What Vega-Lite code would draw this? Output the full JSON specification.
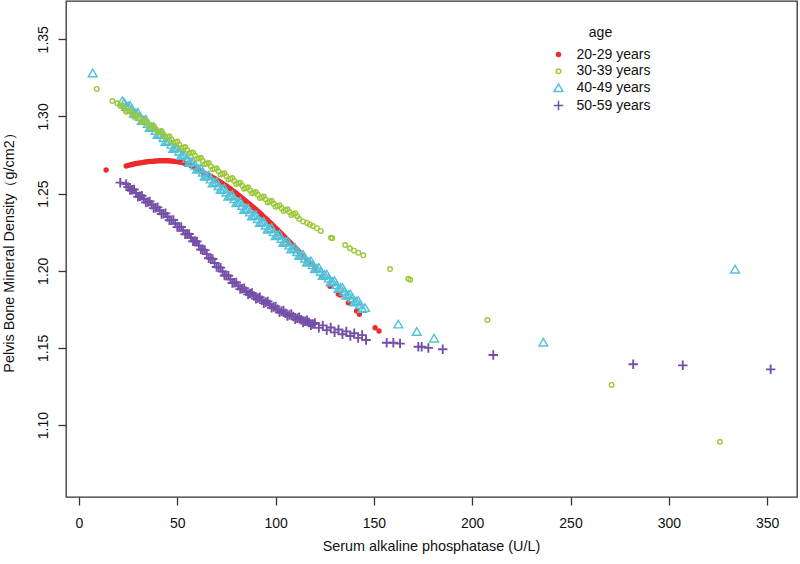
{
"$schema":"https://vega.github.io/schema/vega-lite/v6.json",
"autosize":"none",
"width":731,"height":496,
"padding":{"left":66,"top":1,"right":3,"bottom":67},
"background":"white",
"data":{"values":[
{"age":"20-29 years","alp":13.8,"bmd":1.2653},{"age":"20-29 years","alp":24,"bmd":1.2679},{"age":"20-29 years","alp":25,"bmd":1.2683},{"age":"20-29 years","alp":26,"bmd":1.2686},{"age":"20-29 years","alp":27,"bmd":1.2689},{"age":"20-29 years","alp":28,"bmd":1.2692},{"age":"20-29 years","alp":29,"bmd":1.2695},{"age":"20-29 years","alp":30,"bmd":1.2697},{"age":"20-29 years","alp":31,"bmd":1.2699},{"age":"20-29 years","alp":32,"bmd":1.2701},{"age":"20-29 years","alp":33,"bmd":1.2703},{"age":"20-29 years","alp":34,"bmd":1.2705},{"age":"20-29 years","alp":35,"bmd":1.2707},{"age":"20-29 years","alp":36,"bmd":1.2708},{"age":"20-29 years","alp":37,"bmd":1.2709},{"age":"20-29 years","alp":38,"bmd":1.2710},{"age":"20-29 years","alp":39,"bmd":1.2711},{"age":"20-29 years","alp":40,"bmd":1.2712},{"age":"20-29 years","alp":41,"bmd":1.2713},{"age":"20-29 years","alp":42,"bmd":1.2713},{"age":"20-29 years","alp":43,"bmd":1.2713},{"age":"20-29 years","alp":44,"bmd":1.2713},{"age":"20-29 years","alp":45,"bmd":1.2713},{"age":"20-29 years","alp":46,"bmd":1.2712},{"age":"20-29 years","alp":47,"bmd":1.2711},{"age":"20-29 years","alp":48,"bmd":1.2710},{"age":"20-29 years","alp":49,"bmd":1.2709},{"age":"20-29 years","alp":50,"bmd":1.2707},{"age":"20-29 years","alp":51,"bmd":1.2705},{"age":"20-29 years","alp":52,"bmd":1.2703},{"age":"20-29 years","alp":53,"bmd":1.2700},{"age":"20-29 years","alp":54,"bmd":1.2697},{"age":"20-29 years","alp":55,"bmd":1.2693},{"age":"20-29 years","alp":56,"bmd":1.2688},{"age":"20-29 years","alp":57,"bmd":1.2682},{"age":"20-29 years","alp":58,"bmd":1.2675},{"age":"20-29 years","alp":59,"bmd":1.2668},{"age":"20-29 years","alp":60,"bmd":1.2660},{"age":"20-29 years","alp":61,"bmd":1.2653},{"age":"20-29 years","alp":62,"bmd":1.2645},{"age":"20-29 years","alp":63,"bmd":1.2638},{"age":"20-29 years","alp":64,"bmd":1.2630},{"age":"20-29 years","alp":65,"bmd":1.2624},{"age":"20-29 years","alp":66,"bmd":1.2618},{"age":"20-29 years","alp":67,"bmd":1.2612},{"age":"20-29 years","alp":68,"bmd":1.2605},{"age":"20-29 years","alp":69,"bmd":1.2598},{"age":"20-29 years","alp":70,"bmd":1.2590},{"age":"20-29 years","alp":71,"bmd":1.2582},{"age":"20-29 years","alp":72,"bmd":1.2574},{"age":"20-29 years","alp":73,"bmd":1.2566},{"age":"20-29 years","alp":74,"bmd":1.2558},{"age":"20-29 years","alp":75,"bmd":1.2549},{"age":"20-29 years","alp":76,"bmd":1.2540},{"age":"20-29 years","alp":77,"bmd":1.2531},{"age":"20-29 years","alp":78,"bmd":1.2521},{"age":"20-29 years","alp":79,"bmd":1.2512},{"age":"20-29 years","alp":80,"bmd":1.2502},{"age":"20-29 years","alp":81,"bmd":1.2492},{"age":"20-29 years","alp":82,"bmd":1.2482},{"age":"20-29 years","alp":83,"bmd":1.2472},{"age":"20-29 years","alp":84,"bmd":1.2461},{"age":"20-29 years","alp":85,"bmd":1.2451},{"age":"20-29 years","alp":86,"bmd":1.2440},{"age":"20-29 years","alp":87,"bmd":1.2430},{"age":"20-29 years","alp":88,"bmd":1.2419},{"age":"20-29 years","alp":89,"bmd":1.2408},{"age":"20-29 years","alp":90,"bmd":1.2397},{"age":"20-29 years","alp":91,"bmd":1.2386},{"age":"20-29 years","alp":92,"bmd":1.2374},{"age":"20-29 years","alp":93,"bmd":1.2363},{"age":"20-29 years","alp":94,"bmd":1.2351},{"age":"20-29 years","alp":95,"bmd":1.2339},{"age":"20-29 years","alp":96,"bmd":1.2327},{"age":"20-29 years","alp":97,"bmd":1.2315},{"age":"20-29 years","alp":98,"bmd":1.2303},{"age":"20-29 years","alp":99,"bmd":1.2291},{"age":"20-29 years","alp":100,"bmd":1.2278},{"age":"20-29 years","alp":101,"bmd":1.2266},{"age":"20-29 years","alp":102,"bmd":1.2253},{"age":"20-29 years","alp":103,"bmd":1.2240},{"age":"20-29 years","alp":104,"bmd":1.2227},{"age":"20-29 years","alp":105,"bmd":1.2214},{"age":"20-29 years","alp":106,"bmd":1.2201},{"age":"20-29 years","alp":107,"bmd":1.2188},{"age":"20-29 years","alp":108,"bmd":1.2175},{"age":"20-29 years","alp":109,"bmd":1.2162},{"age":"20-29 years","alp":110,"bmd":1.2149},{"age":"20-29 years","alp":111,"bmd":1.2136},{"age":"20-29 years","alp":112,"bmd":1.2122},{"age":"20-29 years","alp":114,"bmd":1.2096},{"age":"20-29 years","alp":116,"bmd":1.2069},{"age":"20-29 years","alp":118,"bmd":1.2043},{"age":"20-29 years","alp":120,"bmd":1.2016},{"age":"20-29 years","alp":123.4,"bmd":1.1962},{"age":"20-29 years","alp":127.7,"bmd":1.1900},{"age":"20-29 years","alp":131.9,"bmd":1.1850},{"age":"20-29 years","alp":132.8,"bmd":1.1843},{"age":"20-29 years","alp":137,"bmd":1.1793},{"age":"20-29 years","alp":141.2,"bmd":1.1740},{"age":"20-29 years","alp":142.6,"bmd":1.1718},{"age":"20-29 years","alp":150.6,"bmd":1.1631},{"age":"20-29 years","alp":152.6,"bmd":1.1610},
{"age":"40-49 years","alp":7,"bmd":1.328},{"age":"40-49 years","alp":22,"bmd":1.3100},{"age":"40-49 years","alp":23,"bmd":1.3089},{"age":"40-49 years","alp":24,"bmd":1.3063},{"age":"40-49 years","alp":25,"bmd":1.3066},{"age":"40-49 years","alp":26,"bmd":1.3070},{"age":"40-49 years","alp":27,"bmd":1.3044},{"age":"40-49 years","alp":28,"bmd":1.3017},{"age":"40-49 years","alp":29,"bmd":1.3021},{"age":"40-49 years","alp":30,"bmd":1.3025},{"age":"40-49 years","alp":31,"bmd":1.2999},{"age":"40-49 years","alp":32,"bmd":1.2972},{"age":"40-49 years","alp":33,"bmd":1.2976},{"age":"40-49 years","alp":34,"bmd":1.2980},{"age":"40-49 years","alp":35,"bmd":1.2953},{"age":"40-49 years","alp":36,"bmd":1.2927},{"age":"40-49 years","alp":37,"bmd":1.2931},{"age":"40-49 years","alp":38,"bmd":1.2934},{"age":"40-49 years","alp":39,"bmd":1.2908},{"age":"40-49 years","alp":40,"bmd":1.2882},{"age":"40-49 years","alp":41,"bmd":1.2886},{"age":"40-49 years","alp":42,"bmd":1.2889},{"age":"40-49 years","alp":43,"bmd":1.2863},{"age":"40-49 years","alp":44,"bmd":1.2837},{"age":"40-49 years","alp":45,"bmd":1.2840},{"age":"40-49 years","alp":46,"bmd":1.2844},{"age":"40-49 years","alp":47,"bmd":1.2818},{"age":"40-49 years","alp":48,"bmd":1.2791},{"age":"40-49 years","alp":49,"bmd":1.2795},{"age":"40-49 years","alp":50,"bmd":1.2799},{"age":"40-49 years","alp":51,"bmd":1.2773},{"age":"40-49 years","alp":52,"bmd":1.2746},{"age":"40-49 years","alp":53,"bmd":1.2750},{"age":"40-49 years","alp":54,"bmd":1.2754},{"age":"40-49 years","alp":55,"bmd":1.2727},{"age":"40-49 years","alp":56,"bmd":1.2701},{"age":"40-49 years","alp":57,"bmd":1.2705},{"age":"40-49 years","alp":58,"bmd":1.2708},{"age":"40-49 years","alp":59,"bmd":1.2682},{"age":"40-49 years","alp":60,"bmd":1.2656},{"age":"40-49 years","alp":61,"bmd":1.2660},{"age":"40-49 years","alp":62,"bmd":1.2663},{"age":"40-49 years","alp":63,"bmd":1.2637},{"age":"40-49 years","alp":64,"bmd":1.2611},{"age":"40-49 years","alp":65,"bmd":1.2615},{"age":"40-49 years","alp":66,"bmd":1.2619},{"age":"40-49 years","alp":67,"bmd":1.2593},{"age":"40-49 years","alp":68,"bmd":1.2568},{"age":"40-49 years","alp":69,"bmd":1.2572},{"age":"40-49 years","alp":70,"bmd":1.2576},{"age":"40-49 years","alp":71,"bmd":1.2550},{"age":"40-49 years","alp":72,"bmd":1.2525},{"age":"40-49 years","alp":73,"bmd":1.2529},{"age":"40-49 years","alp":74,"bmd":1.2533},{"age":"40-49 years","alp":75,"bmd":1.2508},{"age":"40-49 years","alp":76,"bmd":1.2482},{"age":"40-49 years","alp":77,"bmd":1.2486},{"age":"40-49 years","alp":78,"bmd":1.2491},{"age":"40-49 years","alp":79,"bmd":1.2465},{"age":"40-49 years","alp":80,"bmd":1.2439},{"age":"40-49 years","alp":81,"bmd":1.2443},{"age":"40-49 years","alp":82,"bmd":1.2448},{"age":"40-49 years","alp":83,"bmd":1.2422},{"age":"40-49 years","alp":84,"bmd":1.2396},{"age":"40-49 years","alp":85,"bmd":1.2401},{"age":"40-49 years","alp":86,"bmd":1.2405},{"age":"40-49 years","alp":87,"bmd":1.2379},{"age":"40-49 years","alp":88,"bmd":1.2354},{"age":"40-49 years","alp":89,"bmd":1.2358},{"age":"40-49 years","alp":90,"bmd":1.2362},{"age":"40-49 years","alp":91,"bmd":1.2336},{"age":"40-49 years","alp":92,"bmd":1.2311},{"age":"40-49 years","alp":93,"bmd":1.2315},{"age":"40-49 years","alp":94,"bmd":1.2319},{"age":"40-49 years","alp":95,"bmd":1.2294},{"age":"40-49 years","alp":96,"bmd":1.2268},{"age":"40-49 years","alp":97,"bmd":1.2272},{"age":"40-49 years","alp":98,"bmd":1.2277},{"age":"40-49 years","alp":99,"bmd":1.2251},{"age":"40-49 years","alp":100,"bmd":1.2225},{"age":"40-49 years","alp":101,"bmd":1.2229},{"age":"40-49 years","alp":102,"bmd":1.2234},{"age":"40-49 years","alp":103,"bmd":1.2208},{"age":"40-49 years","alp":104,"bmd":1.2182},{"age":"40-49 years","alp":105,"bmd":1.2187},{"age":"40-49 years","alp":106,"bmd":1.2191},{"age":"40-49 years","alp":107,"bmd":1.2165},{"age":"40-49 years","alp":108,"bmd":1.2140},{"age":"40-49 years","alp":109,"bmd":1.2144},{"age":"40-49 years","alp":110,"bmd":1.2148},{"age":"40-49 years","alp":111,"bmd":1.2122},{"age":"40-49 years","alp":112,"bmd":1.2097},{"age":"40-49 years","alp":113,"bmd":1.2101},{"age":"40-49 years","alp":114,"bmd":1.2105},{"age":"40-49 years","alp":115,"bmd":1.2080},{"age":"40-49 years","alp":116,"bmd":1.2054},{"age":"40-49 years","alp":117,"bmd":1.2058},{"age":"40-49 years","alp":118,"bmd":1.2063},{"age":"40-49 years","alp":119,"bmd":1.2037},{"age":"40-49 years","alp":120,"bmd":1.2011},{"age":"40-49 years","alp":121,"bmd":1.2015},{"age":"40-49 years","alp":122,"bmd":1.2020},{"age":"40-49 years","alp":123,"bmd":1.1994},{"age":"40-49 years","alp":124,"bmd":1.1968},{"age":"40-49 years","alp":125,"bmd":1.1973},{"age":"40-49 years","alp":126,"bmd":1.1977},{"age":"40-49 years","alp":127,"bmd":1.1951},{"age":"40-49 years","alp":128,"bmd":1.1926},{"age":"40-49 years","alp":129,"bmd":1.1930},{"age":"40-49 years","alp":130,"bmd":1.1934},{"age":"40-49 years","alp":131,"bmd":1.1908},{"age":"40-49 years","alp":132,"bmd":1.1883},{"age":"40-49 years","alp":133,"bmd":1.1887},{"age":"40-49 years","alp":134,"bmd":1.1891},{"age":"40-49 years","alp":135,"bmd":1.1866},{"age":"40-49 years","alp":136,"bmd":1.1840},{"age":"40-49 years","alp":137,"bmd":1.1844},{"age":"40-49 years","alp":138,"bmd":1.1849},{"age":"40-49 years","alp":139,"bmd":1.1823},{"age":"40-49 years","alp":140,"bmd":1.1797},{"age":"40-49 years","alp":141,"bmd":1.1801},{"age":"40-49 years","alp":142,"bmd":1.1806},{"age":"40-49 years","alp":143,"bmd":1.1780},{"age":"40-49 years","alp":144,"bmd":1.1754},{"age":"40-49 years","alp":145.5,"bmd":1.1760},{"age":"40-49 years","alp":162.4,"bmd":1.1653},{"age":"40-49 years","alp":171.8,"bmd":1.1605},{"age":"40-49 years","alp":180.6,"bmd":1.1562},{"age":"40-49 years","alp":236.2,"bmd":1.1536},{"age":"40-49 years","alp":333.7,"bmd":1.2009},
{"age":"30-39 years","alp":9.05,"bmd":1.3178},{"age":"30-39 years","alp":17,"bmd":1.3100},{"age":"30-39 years","alp":19.5,"bmd":1.3085},{"age":"30-39 years","alp":21,"bmd":1.3067},{"age":"30-39 years","alp":22,"bmd":1.3072},{"age":"30-39 years","alp":23,"bmd":1.3052},{"age":"30-39 years","alp":24,"bmd":1.3031},{"age":"30-39 years","alp":25,"bmd":1.3035},{"age":"30-39 years","alp":26,"bmd":1.3038},{"age":"30-39 years","alp":27,"bmd":1.3018},{"age":"30-39 years","alp":28,"bmd":1.2998},{"age":"30-39 years","alp":29,"bmd":1.3002},{"age":"30-39 years","alp":30,"bmd":1.3005},{"age":"30-39 years","alp":31,"bmd":1.2985},{"age":"30-39 years","alp":32,"bmd":1.2964},{"age":"30-39 years","alp":33,"bmd":1.2968},{"age":"30-39 years","alp":34,"bmd":1.2972},{"age":"30-39 years","alp":35,"bmd":1.2952},{"age":"30-39 years","alp":36,"bmd":1.2931},{"age":"30-39 years","alp":37,"bmd":1.2935},{"age":"30-39 years","alp":38,"bmd":1.2938},{"age":"30-39 years","alp":39,"bmd":1.2918},{"age":"30-39 years","alp":40,"bmd":1.2898},{"age":"30-39 years","alp":41,"bmd":1.2902},{"age":"30-39 years","alp":42,"bmd":1.2905},{"age":"30-39 years","alp":43,"bmd":1.2885},{"age":"30-39 years","alp":44,"bmd":1.2864},{"age":"30-39 years","alp":45,"bmd":1.2868},{"age":"30-39 years","alp":46,"bmd":1.2871},{"age":"30-39 years","alp":47,"bmd":1.2851},{"age":"30-39 years","alp":48,"bmd":1.2830},{"age":"30-39 years","alp":49,"bmd":1.2834},{"age":"30-39 years","alp":50,"bmd":1.2837},{"age":"30-39 years","alp":51,"bmd":1.2817},{"age":"30-39 years","alp":52,"bmd":1.2796},{"age":"30-39 years","alp":53,"bmd":1.2799},{"age":"30-39 years","alp":54,"bmd":1.2802},{"age":"30-39 years","alp":55,"bmd":1.2782},{"age":"30-39 years","alp":56,"bmd":1.2761},{"age":"30-39 years","alp":57,"bmd":1.2764},{"age":"30-39 years","alp":58,"bmd":1.2767},{"age":"30-39 years","alp":59,"bmd":1.2747},{"age":"30-39 years","alp":60,"bmd":1.2726},{"age":"30-39 years","alp":61,"bmd":1.2729},{"age":"30-39 years","alp":62,"bmd":1.2732},{"age":"30-39 years","alp":63,"bmd":1.2712},{"age":"30-39 years","alp":64,"bmd":1.2691},{"age":"30-39 years","alp":65,"bmd":1.2695},{"age":"30-39 years","alp":66,"bmd":1.2698},{"age":"30-39 years","alp":67,"bmd":1.2678},{"age":"30-39 years","alp":68,"bmd":1.2657},{"age":"30-39 years","alp":69,"bmd":1.2661},{"age":"30-39 years","alp":70,"bmd":1.2664},{"age":"30-39 years","alp":71,"bmd":1.2644},{"age":"30-39 years","alp":72,"bmd":1.2624},{"age":"30-39 years","alp":73,"bmd":1.2628},{"age":"30-39 years","alp":74,"bmd":1.2632},{"age":"30-39 years","alp":75,"bmd":1.2612},{"age":"30-39 years","alp":76,"bmd":1.2592},{"age":"30-39 years","alp":77,"bmd":1.2597},{"age":"30-39 years","alp":78,"bmd":1.2601},{"age":"30-39 years","alp":79,"bmd":1.2582},{"age":"30-39 years","alp":80,"bmd":1.2562},{"age":"30-39 years","alp":81,"bmd":1.2567},{"age":"30-39 years","alp":82,"bmd":1.2571},{"age":"30-39 years","alp":83,"bmd":1.2552},{"age":"30-39 years","alp":84,"bmd":1.2532},{"age":"30-39 years","alp":85,"bmd":1.2537},{"age":"30-39 years","alp":86,"bmd":1.2541},{"age":"30-39 years","alp":87,"bmd":1.2522},{"age":"30-39 years","alp":88,"bmd":1.2502},{"age":"30-39 years","alp":89,"bmd":1.2507},{"age":"30-39 years","alp":90,"bmd":1.2511},{"age":"30-39 years","alp":91,"bmd":1.2492},{"age":"30-39 years","alp":92,"bmd":1.2472},{"age":"30-39 years","alp":93,"bmd":1.2477},{"age":"30-39 years","alp":94,"bmd":1.2481},{"age":"30-39 years","alp":95,"bmd":1.2462},{"age":"30-39 years","alp":96,"bmd":1.2443},{"age":"30-39 years","alp":97,"bmd":1.2448},{"age":"30-39 years","alp":98,"bmd":1.2453},{"age":"30-39 years","alp":99,"bmd":1.2434},{"age":"30-39 years","alp":100,"bmd":1.2415},{"age":"30-39 years","alp":101,"bmd":1.2420},{"age":"30-39 years","alp":102,"bmd":1.2425},{"age":"30-39 years","alp":103,"bmd":1.2406},{"age":"30-39 years","alp":104,"bmd":1.2387},{"age":"30-39 years","alp":105,"bmd":1.2393},{"age":"30-39 years","alp":106,"bmd":1.2398},{"age":"30-39 years","alp":107,"bmd":1.2380},{"age":"30-39 years","alp":108,"bmd":1.2361},{"age":"30-39 years","alp":109,"bmd":1.2367},{"age":"30-39 years","alp":110,"bmd":1.2372},{"age":"30-39 years","alp":111,"bmd":1.2354},{"age":"30-39 years","alp":112,"bmd":1.2335},{"age":"30-39 years","alp":114,"bmd":1.2320},{"age":"30-39 years","alp":116,"bmd":1.2310},{"age":"30-39 years","alp":117.5,"bmd":1.2300},{"age":"30-39 years","alp":119,"bmd":1.2290},{"age":"30-39 years","alp":121,"bmd":1.2276},{"age":"30-39 years","alp":123,"bmd":1.2258},{"age":"30-39 years","alp":128.2,"bmd":1.2214},{"age":"30-39 years","alp":128.8,"bmd":1.2210},{"age":"30-39 years","alp":135.4,"bmd":1.2167},{"age":"30-39 years","alp":137.8,"bmd":1.2146},{"age":"30-39 years","alp":139.9,"bmd":1.2130},{"age":"30-39 years","alp":142.1,"bmd":1.2117},{"age":"30-39 years","alp":144.6,"bmd":1.2100},{"age":"30-39 years","alp":158.2,"bmd":1.2011},{"age":"30-39 years","alp":167.5,"bmd":1.1948},{"age":"30-39 years","alp":168.5,"bmd":1.1942},{"age":"30-39 years","alp":207.7,"bmd":1.1681},{"age":"30-39 years","alp":270.9,"bmd":1.1260},{"age":"30-39 years","alp":326.0,"bmd":1.0892},
{"age":"50-59 years","alp":21,"bmd":1.2571},{"age":"50-59 years","alp":24,"bmd":1.2562},{"age":"50-59 years","alp":25,"bmd":1.2543},{"age":"50-59 years","alp":26,"bmd":1.2523},{"age":"50-59 years","alp":27,"bmd":1.2525},{"age":"50-59 years","alp":28,"bmd":1.2527},{"age":"50-59 years","alp":29,"bmd":1.2504},{"age":"50-59 years","alp":30,"bmd":1.2480},{"age":"50-59 years","alp":31,"bmd":1.2483},{"age":"50-59 years","alp":32,"bmd":1.2486},{"age":"50-59 years","alp":33,"bmd":1.2465},{"age":"50-59 years","alp":34,"bmd":1.2443},{"age":"50-59 years","alp":35,"bmd":1.2446},{"age":"50-59 years","alp":36,"bmd":1.2449},{"age":"50-59 years","alp":37,"bmd":1.2428},{"age":"50-59 years","alp":38,"bmd":1.2406},{"age":"50-59 years","alp":39,"bmd":1.2409},{"age":"50-59 years","alp":40,"bmd":1.2411},{"age":"50-59 years","alp":41,"bmd":1.2390},{"age":"50-59 years","alp":42,"bmd":1.2368},{"age":"50-59 years","alp":43,"bmd":1.2370},{"age":"50-59 years","alp":44,"bmd":1.2372},{"age":"50-59 years","alp":45,"bmd":1.2350},{"age":"50-59 years","alp":46,"bmd":1.2327},{"age":"50-59 years","alp":47,"bmd":1.2328},{"age":"50-59 years","alp":48,"bmd":1.2329},{"age":"50-59 years","alp":49,"bmd":1.2306},{"age":"50-59 years","alp":50,"bmd":1.2283},{"age":"50-59 years","alp":51,"bmd":1.2284},{"age":"50-59 years","alp":52,"bmd":1.2284},{"age":"50-59 years","alp":53,"bmd":1.2261},{"age":"50-59 years","alp":54,"bmd":1.2237},{"age":"50-59 years","alp":55,"bmd":1.2238},{"age":"50-59 years","alp":56,"bmd":1.2238},{"age":"50-59 years","alp":57,"bmd":1.2215},{"age":"50-59 years","alp":58,"bmd":1.2191},{"age":"50-59 years","alp":59,"bmd":1.2191},{"age":"50-59 years","alp":60,"bmd":1.2190},{"age":"50-59 years","alp":61,"bmd":1.2164},{"age":"50-59 years","alp":62,"bmd":1.2138},{"age":"50-59 years","alp":63,"bmd":1.2136},{"age":"50-59 years","alp":64,"bmd":1.2134},{"age":"50-59 years","alp":65,"bmd":1.2108},{"age":"50-59 years","alp":66,"bmd":1.2081},{"age":"50-59 years","alp":67,"bmd":1.2079},{"age":"50-59 years","alp":68,"bmd":1.2076},{"age":"50-59 years","alp":69,"bmd":1.2050},{"age":"50-59 years","alp":70,"bmd":1.2024},{"age":"50-59 years","alp":71,"bmd":1.2022},{"age":"50-59 years","alp":72,"bmd":1.2020},{"age":"50-59 years","alp":73,"bmd":1.1995},{"age":"50-59 years","alp":74,"bmd":1.1969},{"age":"50-59 years","alp":75,"bmd":1.1969},{"age":"50-59 years","alp":76,"bmd":1.1968},{"age":"50-59 years","alp":77,"bmd":1.1945},{"age":"50-59 years","alp":78,"bmd":1.1921},{"age":"50-59 years","alp":79,"bmd":1.1923},{"age":"50-59 years","alp":80,"bmd":1.1924},{"age":"50-59 years","alp":81,"bmd":1.1903},{"age":"50-59 years","alp":82,"bmd":1.1881},{"age":"50-59 years","alp":83,"bmd":1.1884},{"age":"50-59 years","alp":84,"bmd":1.1887},{"age":"50-59 years","alp":85,"bmd":1.1867},{"age":"50-59 years","alp":86,"bmd":1.1847},{"age":"50-59 years","alp":87,"bmd":1.1852},{"age":"50-59 years","alp":88,"bmd":1.1856},{"age":"50-59 years","alp":89,"bmd":1.1837},{"age":"50-59 years","alp":90,"bmd":1.1818},{"age":"50-59 years","alp":91,"bmd":1.1823},{"age":"50-59 years","alp":92,"bmd":1.1828},{"age":"50-59 years","alp":93,"bmd":1.1809},{"age":"50-59 years","alp":94,"bmd":1.1790},{"age":"50-59 years","alp":95,"bmd":1.1796},{"age":"50-59 years","alp":96,"bmd":1.1801},{"age":"50-59 years","alp":97,"bmd":1.1781},{"age":"50-59 years","alp":98,"bmd":1.1760},{"age":"50-59 years","alp":99,"bmd":1.1765},{"age":"50-59 years","alp":100,"bmd":1.1769},{"age":"50-59 years","alp":101,"bmd":1.1750},{"age":"50-59 years","alp":102,"bmd":1.1731},{"age":"50-59 years","alp":103,"bmd":1.1737},{"age":"50-59 years","alp":104,"bmd":1.1743},{"age":"50-59 years","alp":105,"bmd":1.1725},{"age":"50-59 years","alp":106,"bmd":1.1707},{"age":"50-59 years","alp":107,"bmd":1.1714},{"age":"50-59 years","alp":108,"bmd":1.1720},{"age":"50-59 years","alp":109,"bmd":1.1703},{"age":"50-59 years","alp":110,"bmd":1.1685},{"age":"50-59 years","alp":111,"bmd":1.1692},{"age":"50-59 years","alp":112,"bmd":1.1699},{"age":"50-59 years","alp":113,"bmd":1.1682},{"age":"50-59 years","alp":114,"bmd":1.1665},{"age":"50-59 years","alp":115,"bmd":1.1673},{"age":"50-59 years","alp":116,"bmd":1.1680},{"age":"50-59 years","alp":117,"bmd":1.1664},{"age":"50-59 years","alp":118,"bmd":1.1647},{"age":"50-59 years","alp":119,"bmd":1.1655},{"age":"50-59 years","alp":120,"bmd":1.1662},{"age":"50-59 years","alp":122,"bmd":1.1630},{"age":"50-59 years","alp":124,"bmd":1.1646},{"age":"50-59 years","alp":126,"bmd":1.1615},{"age":"50-59 years","alp":128,"bmd":1.1632},{"age":"50-59 years","alp":130,"bmd":1.1601},{"age":"50-59 years","alp":132,"bmd":1.1619},{"age":"50-59 years","alp":134,"bmd":1.1589},{"age":"50-59 years","alp":136,"bmd":1.1607},{"age":"50-59 years","alp":138,"bmd":1.1577},{"age":"50-59 years","alp":140,"bmd":1.1595},{"age":"50-59 years","alp":142,"bmd":1.1565},{"age":"50-59 years","alp":144,"bmd":1.1583},{"age":"50-59 years","alp":146,"bmd":1.1551},{"age":"50-59 years","alp":156.5,"bmd":1.1534},{"age":"50-59 years","alp":159.9,"bmd":1.1534},{"age":"50-59 years","alp":163.3,"bmd":1.1528},{"age":"50-59 years","alp":172.6,"bmd":1.1508},{"age":"50-59 years","alp":174.3,"bmd":1.1508},{"age":"50-59 years","alp":177.7,"bmd":1.1500},{"age":"50-59 years","alp":185.0,"bmd":1.1491},{"age":"50-59 years","alp":210.7,"bmd":1.1454},{"age":"50-59 years","alp":281.9,"bmd":1.1394},{"age":"50-59 years","alp":307.1,"bmd":1.1387},{"age":"50-59 years","alp":351.8,"bmd":1.1361}
]},
"mark":{"type":"point","opacity":1,"strokeWidth":1.4,"size":100},
"encoding":{
"x":{"field":"alp","type":"quantitative","scale":{"domain":[-6.6,365.2],"nice":false,"zero":false},
 "axis":{"title":"Serum alkaline phosphatase (U/L)","values":[0,50,100,150,200,250,300,350],"labelBaseline":"alphabetic","labelPadding":22.5,"labelFlush":false,"labelOverlap":false,"titleBaseline":"alphabetic","titleAlign":"center","titleX":365,"titleY":53.7}},
"y":{"field":"bmd","type":"quantitative","scale":{"domain":[1.0534,1.3748],"nice":false,"zero":false},
 "axis":{"title":"Pelvis Bone Mineral Density（g/cm2）","values":[1.1,1.15,1.2,1.25,1.3,1.35],"format":".2f","labelAngle":270,"labelAlign":"center","labelBaseline":"alphabetic","labelPadding":11,"labelFlush":false,"labelOverlap":false,"titleAngle":270,"titleBaseline":"alphabetic","titleAlign":"center","titleX":-52.7,"titleY":248}},
"stroke":{"field":"age","type":"nominal","scale":{"domain":["20-29 years","30-39 years","40-49 years","50-59 years"],"range":["#EE2A2A","#9DC83A","#52C1D8","#7450A8"]},"legend":{"title":"age"}},
"fill":{"field":"age","type":"nominal","scale":{"domain":["20-29 years","30-39 years","40-49 years","50-59 years"],"range":["#EE2A2A","transparent","transparent","transparent"]},"legend":{"title":"age"}},
"shape":{"field":"age","type":"nominal","scale":{"domain":["20-29 years","30-39 years","40-49 years","50-59 years"],"range":["M-0.4,0A0.4,0.4,0,1,0,0.4,0A0.4,0.4,0,1,0,-0.4,0Z","M-0.46,0A0.46,0.46,0,1,0,0.46,0A0.46,0.46,0,1,0,-0.46,0Z","M0,-0.8L-0.88,0.72L0.88,0.72Z","M-0.95,0L0.95,0M0,-0.95L0,0.95"]},"legend":{"title":"age"}},
"strokeWidth":{"condition":{"test":"datum.age === '50-59 years'","value":1.9},"value":1.4}
},
"config":{
"view":{"stroke":"#333333","strokeWidth":1.3},
"font":"Liberation Sans",
"axis":{"domain":false,"grid":false,"tickColor":"#333333","tickSize":8,"tickWidth":1.3,"labelFont":"Liberation Sans","labelFontSize":14,"labelColor":"#111111","titleFont":"Liberation Sans","titleFontSize":14.4,"titleFontWeight":"normal","titleColor":"#111111"},
"legend":{"orient":"none","legendX":485.5,"legendY":24.5,"titleAnchor":"middle","titleFont":"Liberation Sans","titleFontSize":14,"titleFontWeight":"normal","titleColor":"#111111","titlePadding":8,"labelFont":"Liberation Sans","labelFontSize":14,"labelColor":"#111111","labelOffset":11,"rowPadding":2.7,"symbolSize":100,"symbolStrokeWidth":1.5,"padding":0}
}
}
